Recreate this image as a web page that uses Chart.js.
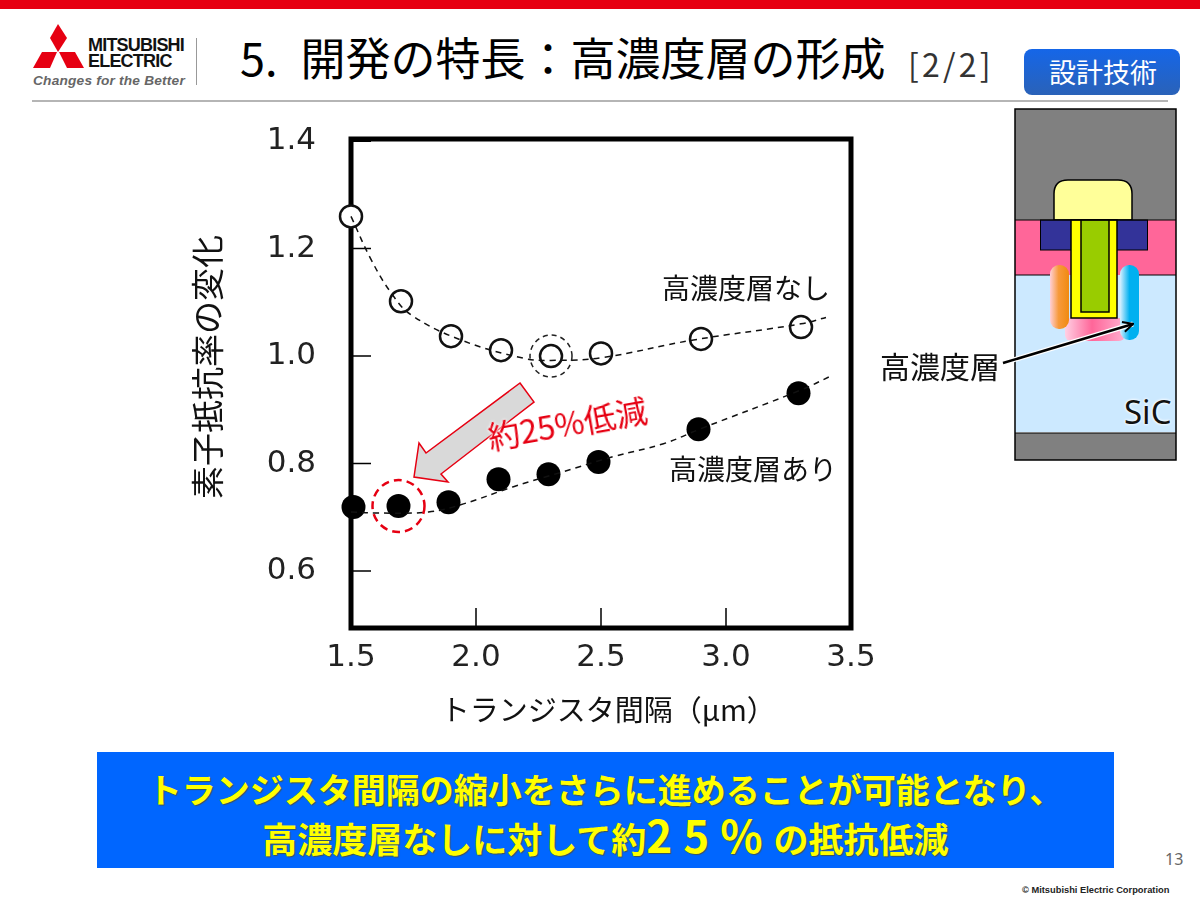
<!DOCTYPE html>
<html lang="ja">
<head>
<meta charset="utf-8">
<title>高濃度層の形成</title>
<script src="https://cdn.jsdelivr.net/npm/chart.js@4/dist/chart.umd.min.js"></script>
<style>
	html, body { margin: 0; padding: 0; background: #fff; }
	body { position: relative; width: 1200px; height: 900px; overflow: hidden; font-family: "Noto Sans CJK JP", sans-serif; color: #111; }
	.abs { position: absolute; white-space: nowrap; line-height: 1; }
	.lead { left: 97px; width: 1017px; text-align: center; font-weight: bold; color: #ffff00; text-shadow: 1px 1px 1px rgba(90, 80, 0, 0.7); }
	#chartBox { position: absolute; left: 170px; top: 110px; width: 730px; height: 630px; }
	svg { position: absolute; left: 0; top: 0; }
</style>
</head>
<body>
<div class="abs" style="left:0;top:0;width:1200px;height:9px;background:#e60012"></div>
<div class="abs" style="left:32px;top:100px;width:1136px;height:2px;background:#b5b5b5"></div>
<div class="abs" style="left:196px;top:38px;width:1px;height:47px;background:#999"></div>

<svg width="1200" height="900">
	<!-- logo -->
	<g fill="#e60012">
		<polygon points="58,24 67,38 58,52 50,38"/>
		<polygon points="33,68 42,52 57,52 50,68"/>
		<polygon points="59,52 75,52 84,68 67,68"/>
	</g>
	<!-- device cross section -->
	<defs>
		<linearGradient id="orange" x1="0" x2="1" y1="0" y2="0"><stop offset="0" stop-color="#ffd0d8"/><stop offset="0.45" stop-color="#f79a3c"/><stop offset="1" stop-color="#f08a10"/></linearGradient>
		<linearGradient id="cyan" x1="0" x2="1" y1="0" y2="0"><stop offset="0" stop-color="#d8f0ff"/><stop offset="0.5" stop-color="#00b0f0"/><stop offset="1" stop-color="#00b0f0"/></linearGradient>
		<linearGradient id="pinkb" x1="0" x2="1" y1="0" y2="0"><stop offset="0" stop-color="#ffd0e4"/><stop offset="0.45" stop-color="#ff6699"/><stop offset="1" stop-color="#ffb0d0"/></linearGradient>
		<linearGradient id="btn" x1="0" x2="0" y1="0" y2="1"><stop offset="0" stop-color="#1566e8"/><stop offset="1" stop-color="#2a62b8"/></linearGradient>
		<marker id="head" viewBox="0 0 12 12" refX="11" refY="6" markerWidth="12" markerHeight="12" markerUnits="userSpaceOnUse" orient="auto"><path d="M1 1 L11 6 L1 11" fill="none" stroke="#000" stroke-width="2"/></marker>
	</defs>
	<rect x="1024" y="49" width="156" height="46" rx="8" fill="url(#btn)"/>
	<rect x="1015" y="109" width="161" height="111" fill="#808080"/>
	<rect x="1015" y="220" width="161" height="55" fill="#ff6699"/>
	<rect x="1015" y="275" width="161" height="157" fill="#cce9ff"/>
	<rect x="1015" y="433" width="161" height="27" fill="#808080"/>
	<path d="M1054 220 V194 Q1054 180 1068 180 H1118 Q1132 180 1132 194 V220 Z" fill="#ffff99" stroke="#000" stroke-width="1.5"/>
	<rect x="1040.5" y="220" width="107" height="30" fill="#333399" stroke="#000" stroke-width="1"/>
	<rect x="1065" y="318" width="60" height="23" rx="6" fill="url(#pinkb)"/>
	<rect x="1050" y="265" width="19" height="64" rx="9" fill="url(#orange)"/>
	<rect x="1120" y="265" width="19" height="75" rx="9" fill="url(#cyan)"/>
	<rect x="1071" y="220" width="46" height="98" fill="#ffff00" stroke="#000" stroke-width="1.5"/>
	<rect x="1081" y="220" width="28" height="92" fill="#99cc00" stroke="#000" stroke-width="1.5"/>
	<path d="M1015 220 H1176 M1015 275 H1050 M1139 275 H1176 M1015 433 H1176" stroke="#000" stroke-width="1.2" fill="none"/>
	<rect x="1015" y="109" width="161" height="351" fill="none" stroke="#000" stroke-width="1.5"/>
	<line x1="1003" y1="363" x2="1133" y2="324" stroke="#fff" stroke-width="5"/>
	<line x1="1003" y1="363" x2="1133" y2="324" stroke="#000" stroke-width="2.5" marker-end="url(#head)"/>
	<!-- red reduction arrow -->
	<polygon points="520,383 534,402 441,474 448,482 414,477 419,443 426,453" fill="#d9d9d9" stroke="#e60012" stroke-width="1.5"/>
</svg>

<div id="chartBox"><canvas id="slideChart" width="730" height="630"></canvas></div>

<div class="abs" style="left:88px;top:36px;font:bold 18px/1 'Liberation Sans';letter-spacing:-.8px;color:#111">MITSUBISHI</div>
<div class="abs" style="left:88px;top:52px;font:bold 18px/1 'Liberation Sans';letter-spacing:-.8px;color:#111">ELECTRIC</div>
<div class="abs" style="left:33px;top:74px;font:italic bold 13.7px/1 'Liberation Sans';color:#666;letter-spacing:.2px">Changes for the Better</div>

<div class="abs" style="left:240px;top:34px;font-size:45px;color:#000;word-spacing:13px">5. 開発の特長：高濃度層の形成</div>
<div class="abs" style="left:908px;top:47px;font-size:32px;letter-spacing:3.2px;color:#333">[2/2]</div>
<div class="abs" style="left:1049px;top:58px;font-size:27px;color:#fff">設計技術</div>

<div class="abs" style="left:662px;top:273px;font-size:28px">高濃度層なし</div>
<div class="abs" style="left:669px;top:454px;font-size:28px">高濃度層あり</div>
<div class="abs" style="left:488px;top:420px;font-size:32px;color:#e60012;transform:rotate(-10deg);transform-origin:0 50%;text-shadow:0 0 3px #fff,0 0 3px #fff">約25%低減</div>
<div class="abs" style="left:880px;top:350px;font-size:30px">高濃度層</div>
<div class="abs" style="left:1124px;top:395px;font:33px/1 'Noto Sans';color:#111;text-shadow:0 0 3px #fff,0 0 3px #fff">SiC</div>

<div class="abs" style="left:97px;top:752px;width:1017px;height:116px;background:#0066ff"></div>
<div class="abs lead" style="top:772px;font-size:34px">トランジスタ間隔の縮小をさらに進めることが可能となり、</div>
<div class="abs lead" style="top:817px;height:35px;font-size:35px">高濃度層なしに対して約<span style="font-size:44px;letter-spacing:11px;line-height:35px">25%</span>の抵抗低減</div>
<div class="abs" style="left:1165px;top:851px;font:16px/1 'Noto Sans';color:#666">13</div>
<div class="abs" style="left:1022px;top:886px;font:bold 9.3px/1 'Liberation Sans';color:#222">© Mitsubishi Electric Corporation</div>

<script>
const xTicks = [1.5, 2.0, 2.5, 3.0, 3.5];
const yTicks = [0.6, 0.8, 1.0, 1.2, 1.4];
const spacing = [1.5, 1.7, 1.9, 2.1, 2.3, 2.5, 2.9, 3.3];
const withoutLayer = [1.26, 1.102, 1.037, 1.011, 1.0, 1.005, 1.032, 1.054];
const withLayer = [0.719, 0.721, 0.728, 0.771, 0.78, 0.803, 0.864, 0.931];
const withLayerX = [1.51, 1.69, 1.89, 2.09, 2.29, 2.49, 2.89, 3.29];

// dashed guide curves
const guideXa = [1.5, 1.58, 1.66, 1.74, 1.94, 2.19, 2.3, 2.5, 2.87, 3.3, 3.4];
const guideYa = [1.26, 1.18, 1.118, 1.077, 1.03, 0.996, 0.992, 0.997, 1.03, 1.06, 1.072];
const guideXb = [1.5, 1.6, 1.81, 1.95, 2.15, 2.35, 2.55, 2.75, 2.9, 3.3, 3.42];
const guideYb = [0.71, 0.708, 0.71, 0.725, 0.757, 0.785, 0.813, 0.837, 0.865, 0.937, 0.963];

// the leading spaces nudge both titles to where the slide has them
const xTitle = "\u2002トランジスタ間隔（μm）";
const yTitle = "\u3000素子抵抗率の変化";

const toPoints = (xs, ys) => xs.map((x, i) => ({ x: x, y: ys[i] }));

const framePlugin = {
	id: "frame",
	beforeDatasetsDraw(chart) {
		const { ctx, chartArea: a, scales } = chart;
		ctx.save();
		ctx.strokeStyle = "#000";
		ctx.lineWidth = 1.5;
		ctx.beginPath();
		scales.y.ticks.forEach((t) => {
			const py = scales.y.getPixelForValue(t.value);
			ctx.moveTo(a.left, py);
			ctx.lineTo(a.left + 20, py);
		});
		scales.x.ticks.forEach((t) => {
			const px = scales.x.getPixelForValue(t.value);
			ctx.moveTo(px, a.bottom);
			ctx.lineTo(px, a.bottom - 20);
		});
		ctx.stroke();
		ctx.lineWidth = 5;
		ctx.strokeRect(a.left, a.top, a.right - a.left, a.bottom - a.top);
		ctx.restore();
	},
	afterDatasetsDraw(chart) {
		const { ctx, scales } = chart;
		const ring = (x, y, r, colour, width, dash) => {
			ctx.save();
			ctx.strokeStyle = colour;
			ctx.lineWidth = width;
			ctx.setLineDash(dash);
			ctx.beginPath();
			ctx.arc(scales.x.getPixelForValue(x), scales.y.getPixelForValue(y), r, 0, Math.PI * 2);
			ctx.stroke();
			ctx.restore();
		};
		ring(spacing[4], withoutLayer[4], 21, "#222", 1.5, [5, 4]);
		ring(withLayerX[1], withLayer[1], 26, "#e60012", 2.5, [8, 5]);
	},
};

const tickFont = { family: "'DejaVu Sans'", size: 31 };

new Chart(document.getElementById("slideChart").getContext("2d"), {
	type: "line",
	data: {
		datasets: [
			{
				label: "guide a",
				data: toPoints(guideXa, guideYa),
				borderColor: "#111",
				borderWidth: 1.5,
				borderDash: [6, 5],
				pointRadius: 0,
				tension: 0.4,
				clip: false,
			},
			{
				label: "guide b",
				data: toPoints(guideXb, guideYb),
				borderColor: "#111",
				borderWidth: 1.5,
				borderDash: [6, 5],
				pointRadius: 0,
				tension: 0.4,
				clip: false,
			},
			{
				label: "高濃度層なし",
				data: toPoints(spacing, withoutLayer),
				showLine: false,
				pointRadius: 11,
				pointBorderWidth: 2.5,
				pointBackgroundColor: "#fff",
				pointBorderColor: "#111",
				clip: false,
			},
			{
				label: "高濃度層あり",
				data: toPoints(withLayerX, withLayer),
				showLine: false,
				pointRadius: 12,
				pointBorderWidth: 0,
				pointBackgroundColor: "#000",
				clip: false,
			},
		],
	},
	options: {
		responsive: false,
		animation: false,
		layout: { padding: { left: 0, top: 29, right: 49, bottom: 0 } },
		plugins: { legend: { display: false }, tooltip: { enabled: false } },
		scales: {
			x: {
				type: "linear",
				min: 1.5,
				max: 3.5,
				afterBuildTicks(scale) {
					scale.ticks = xTicks.map((v) => ({ value: v }));
				},
				afterFit(scale) {
					scale.height = 112;
				},
				grid: { display: false },
				border: { display: false },
				ticks: { color: "#222", font: tickFont, padding: 3, maxRotation: 0, callback: (v) => v.toFixed(1) },
				title: { display: true, text: xTitle, color: "#111", font: { family: "'Noto Sans CJK JP'", size: 29 }, padding: { top: 12, bottom: 13 } },
			},
			y: {
				type: "linear",
				min: 0.494,
				max: 1.404,
				afterBuildTicks(scale) {
					scale.ticks = yTicks.map((v) => ({ value: v }));
				},
				afterFit(scale) {
					scale.width = 181;
					// tick padding would otherwise push the plot top down
					scale.paddingTop = 0;
					scale.paddingBottom = 0;
				},
				grid: { display: false },
				border: { display: false },
				ticks: { color: "#222", font: tickFont, padding: 27, callback: (v) => v.toFixed(1) },
				title: { display: true, text: yTitle, color: "#111", font: { family: "'Noto Sans CJK JP'", size: 33 }, padding: { top: 18, bottom: 0 } },
			},
		},
	},
	plugins: [framePlugin],
});
</script>
</body>
</html>
